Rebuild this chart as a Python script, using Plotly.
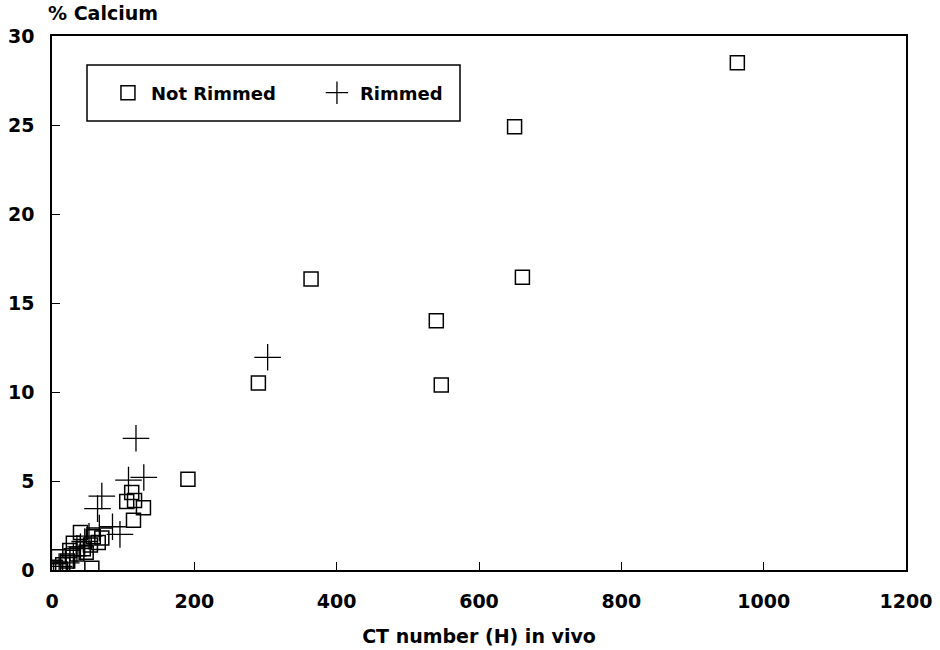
import plotly.graph_objects as go

# CT number (H) in vivo vs % calcium, split by rim status
not_rimmed_ct = [963, 650, 364, 661, 540, 547, 290, 191, 112, 105, 116, 128.5, 114.5,
                 40, 58, 65, 54, 30, 25, 44, 9, 56, 5, 15, 22, 35, 2, 12, 48, 70]
not_rimmed_ca = [28.5, 24.9, 16.35, 16.45, 14.0, 10.4, 10.5, 5.1, 4.35, 3.85, 3.9, 3.5, 2.8,
                 2.1, 1.87, 1.55, 1.4, 1.5, 1.1, 1.2, 0.75, 0.1, 0.15, 0.3, 0.5, 0.9, 0.05, 0.05, 1.0, 1.8]

rimmed_ct = [303, 118, 129, 107.5, 70, 64, 95.5, 85, 66.5, 46, 40, 30, 20, 10, 35, 52]
rimmed_ca = [11.95, 7.4, 5.2, 5.05, 4.15, 3.45, 2.0, 2.43, 2.36, 1.6, 1.3, 0.8, 0.4, 0.2, 1.2, 1.9]

x_ticks = [0, 200, 400, 600, 800, 1000, 1200]
y_ticks = [0, 5, 10, 15, 20, 25, 30]

FONT = "DejaVu Sans"
TXT = dict(family=FONT, color="black", weight="bold")

fig = go.Figure()
fig.add_trace(go.Scatter(
    x=not_rimmed_ct, y=not_rimmed_ca, mode="markers", name="Not Rimmed",
    marker=dict(symbol="square-open", size=14, color="black", line=dict(width=1.5, color="black")),
))
fig.add_trace(go.Scatter(
    x=rimmed_ct, y=rimmed_ca, mode="markers", name="Rimmed",
    marker=dict(symbol="cross-thin-open", size=19, color="black", line=dict(width=1.3, color="black")),
))

axis_common = dict(
    showgrid=False, zeroline=False, showline=True, linecolor="black", linewidth=1.5,
    mirror=True, ticks="inside", ticklen=8, tickcolor="black", tickwidth=1.3,
    tickfont=dict(size=19, **TXT), automargin=False,
)

fig.update_xaxes(range=[0, 1200], tickvals=x_ticks, ticklabelstandoff=13,
                 title=dict(text="CT number (H) in vivo", font=dict(size=19, **TXT), standoff=19),
                 **axis_common)
fig.update_yaxes(range=[0, 30], tickvals=y_ticks, ticklabelstandoff=12, **axis_common)

fig.add_annotation(x=0, y=1, xref="paper", yref="paper", xanchor="left", yanchor="bottom",
                   xshift=-6, yshift=10, text="% Calcium", showarrow=False,
                   font=dict(size=19, **TXT))

# legend frame
fig.add_shape(type="rect", xref="paper", yref="paper",
              x0=(87 - 52) / 854, x1=(460 - 52) / 854,
              y0=(570 - 121) / 534, y1=(570 - 65) / 534,
              line=dict(color="black", width=1.5), fillcolor="white", layer="below")

fig.update_layout(
    width=940, height=650, plot_bgcolor="white", paper_bgcolor="white",
    margin=dict(l=52, r=34, t=36, b=80, autoexpand=False),
    showlegend=True,
    legend=dict(x=0.062, y=(570 - 93) / 534, xanchor="left", yanchor="middle", orientation="h",
                borderwidth=0, bgcolor="rgba(0,0,0,0)",
                font=dict(size=18, **TXT), itemwidth=36,
                entrywidth=158, entrywidthmode="pixels"),
)

fig.write_html("out.html")
